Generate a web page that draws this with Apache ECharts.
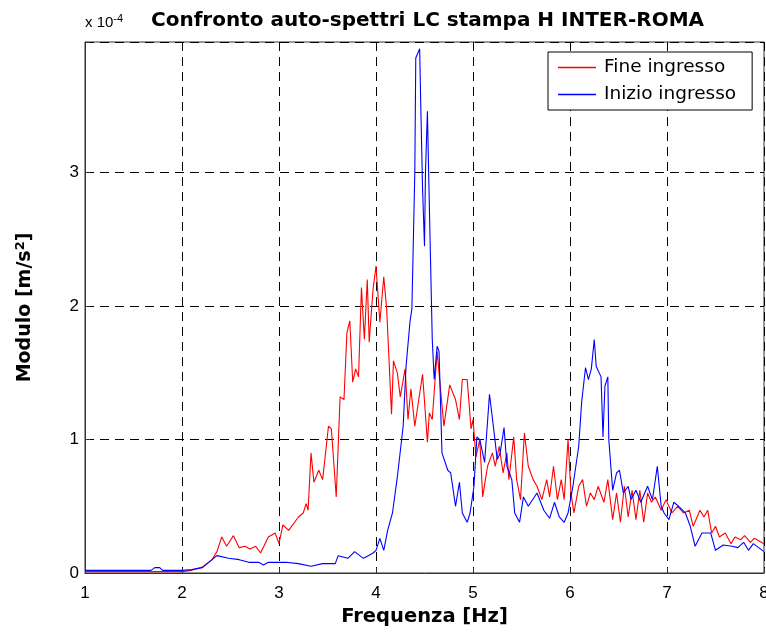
<!DOCTYPE html>
<html>
<head>
<meta charset="utf-8">
<script src="https://cdn.jsdelivr.net/npm/echarts@6/dist/echarts.min.js"></script>
<style>
  html, body { margin: 0; padding: 0; background: #fff; }
  #chart { width: 766px; height: 635px; }
</style>
</head>
<body>
<div id="chart"></div>
<script>
// values in units of 1e-4 m/s^2, frequency in Hz
var fineIngresso = [
    [1.0,0.01],[1.5,0.01],[2.0,0.01],[2.1,0.02],[2.21,0.045],[2.31,0.1],[2.36,0.16],[2.41,0.27],[2.46,0.2],
    [2.53,0.28],[2.59,0.19],[2.65,0.2],[2.7,0.18],[2.76,0.2],[2.81,0.15],[2.89,0.27],[2.96,0.3],[3.0,0.22],
    [3.04,0.36],[3.1,0.32],[3.2,0.42],[3.25,0.45],[3.28,0.52],[3.3,0.47],[3.33,0.9],[3.36,0.68],[3.41,0.77],
    [3.45,0.7],[3.51,1.1],[3.54,1.08],[3.59,0.57],[3.63,1.32],[3.67,1.3],[3.7,1.8],[3.73,1.89],[3.76,1.43],
    [3.79,1.53],[3.82,1.47],[3.85,2.14],[3.88,1.75],[3.91,2.2],[3.93,1.73],[3.97,2.13],[4.0,2.3],[4.04,1.88],
    [4.08,2.22],[4.11,1.98],[4.16,1.19],[4.18,1.59],[4.22,1.5],[4.25,1.32],[4.3,1.53],[4.33,1.15],[4.36,1.38],
    [4.4,1.1],[4.48,1.49],[4.53,0.98],[4.55,1.2],[4.58,1.15],[4.63,1.66],[4.7,1.1],[4.76,1.41],[4.82,1.3],
    [4.86,1.15],[4.89,1.45],[4.94,1.45],[4.98,1.08],[5.0,1.15],[5.03,0.87],[5.07,1.0],[5.1,0.57],[5.15,0.8],
    [5.2,0.9],[5.23,0.8],[5.27,0.95],[5.31,0.75],[5.35,0.9],[5.37,0.7],[5.42,1.02],[5.45,0.7],[5.49,0.55],
    [5.53,1.05],[5.57,0.8],[5.62,0.7],[5.66,0.65],[5.71,0.55],[5.76,0.7],[5.79,0.57],[5.83,0.8],[5.87,0.55],
    [5.91,0.7],[5.94,0.55],[5.98,1.0],[6.01,0.6],[6.04,0.45],[6.09,0.65],[6.13,0.7],[6.17,0.5],[6.21,0.6],
    [6.25,0.55],[6.29,0.65],[6.35,0.53],[6.39,0.7],[6.44,0.4],[6.48,0.6],[6.52,0.38],[6.56,0.65],[6.6,0.42],
    [6.64,0.62],[6.68,0.4],[6.72,0.62],[6.76,0.38],[6.8,0.6],[6.84,0.53],[6.88,0.57],[6.94,0.47],[6.99,0.55],
    [7.05,0.45],[7.11,0.5],[7.17,0.45],[7.23,0.47],[7.27,0.35],[7.34,0.47],[7.38,0.42],[7.42,0.47],[7.46,0.3],
    [7.5,0.35],[7.54,0.27],[7.6,0.3],[7.66,0.22],[7.7,0.27],[7.76,0.25],[7.8,0.28],[7.86,0.23],[7.9,0.26],
    [8.0,0.22]
];

var inizioIngresso = [
    [1.0,0.02],[1.68,0.02],[1.72,0.04],[1.77,0.04],[1.8,0.02],[2.0,0.02],[2.1,0.025],[2.21,0.04],[2.31,0.1],
    [2.36,0.13],[2.38,0.14],[2.48,0.11],[2.59,0.1],[2.69,0.08],[2.79,0.08],[2.84,0.06],[2.89,0.08],[3.0,0.08],
    [3.07,0.08],[3.2,0.07],[3.33,0.05],[3.45,0.07],[3.58,0.07],[3.61,0.13],[3.71,0.11],[3.78,0.16],[3.87,0.11],
    [3.92,0.13],[3.97,0.15],[4.0,0.17],[4.04,0.26],[4.08,0.17],[4.12,0.32],[4.17,0.45],[4.22,0.72],[4.28,1.1],
    [4.31,1.55],[4.35,1.88],[4.37,1.98],[4.4,3.0],[4.41,3.86],[4.45,3.93],[4.46,3.56],[4.48,2.88],[4.5,2.45],
    [4.51,3.0],[4.53,3.46],[4.55,2.75],[4.58,1.75],[4.6,1.45],[4.63,1.7],[4.65,1.66],[4.68,0.9],[4.74,0.77],
    [4.77,0.75],[4.82,0.5],[4.86,0.68],[4.89,0.45],[4.94,0.38],[4.97,0.45],[5.01,0.65],[5.04,1.02],[5.07,1.0],
    [5.12,0.83],[5.17,1.34],[5.21,1.1],[5.25,0.85],[5.28,0.9],[5.32,1.09],[5.35,0.8],[5.4,0.7],[5.43,0.45],
    [5.48,0.38],[5.52,0.57],[5.57,0.5],[5.66,0.6],[5.73,0.47],[5.79,0.41],[5.84,0.53],[5.89,0.42],[5.94,0.38],
    [5.98,0.45],[6.03,0.65],[6.09,0.95],[6.12,1.28],[6.16,1.54],[6.19,1.45],[6.22,1.53],[6.25,1.75],[6.27,1.55],
    [6.32,1.47],[6.34,1.02],[6.36,1.4],[6.39,1.47],[6.4,1.0],[6.44,0.62],[6.48,0.75],[6.51,0.77],[6.55,0.6],
    [6.6,0.65],[6.63,0.55],[6.68,0.62],[6.73,0.53],[6.8,0.65],[6.85,0.55],[6.9,0.8],[6.94,0.5],[6.97,0.45],
    [7.02,0.4],[7.07,0.53],[7.12,0.5],[7.19,0.45],[7.24,0.35],[7.29,0.2],[7.36,0.3],[7.45,0.3],[7.5,0.17],
    [7.58,0.21],[7.67,0.2],[7.73,0.19],[7.79,0.23],[7.84,0.17],[7.89,0.22],[8.0,0.16]
];

var seriesNames = ['Fine ingresso', 'Inizio ingresso'];

var chart = echarts.init(document.getElementById('chart'));
var font = '"Liberation Sans", Arial, sans-serif';
var wideFont = '"DejaVu Sans", sans-serif';
var gridLine = { show: true, lineStyle: { color: '#000', type: [9, 6], width: 1 } };

option = {
    animation: false,
    textStyle: { fontFamily: font },
    title: {
        text: 'Confronto auto-spettri LC stampa H INTER-ROMA',
        left: 146,
        top: 6,
        textStyle: { fontSize: 20, fontWeight: 'bold', color: '#000', fontFamily: wideFont }
    },
    graphic: [{
        type: 'text',
        left: 85,
        top: 13,
        style: {
            text: 'x 10{sup|-4}',
            fontSize: 15,
            fontFamily: font,
            fill: '#000',
            rich: { sup: { fontSize: 11, verticalAlign: 'top', padding: [0, 0, 8, 0], fontFamily: font } }
        }
    }],
    legend: {
        data: seriesNames,
        orient: 'vertical',
        left: 548,
        top: 52,
        icon: 'rect',
        itemWidth: 38,
        itemHeight: 1.5,
        itemGap: 8,
        padding: [6, 16, 6, 10],
        borderColor: '#000',
        borderWidth: 1,
        borderRadius: 0,
        backgroundColor: '#fff',
        textStyle: { fontSize: 18.5, color: '#000', fontFamily: wideFont, padding: [0, 0, 0, 3] }
    },
    grid: {
        left: 85,
        right: 2,
        top: 42,
        bottom: 62,
        outerBoundsMode: 'none',
        show: true,
        borderColor: '#333',
        borderWidth: 1
    },
    xAxis: {
        type: 'value',
        min: 1,
        max: 8,
        interval: 1,
        name: 'Frequenza [Hz]',
        nameLocation: 'middle',
        nameGap: 33,
        nameTextStyle: { fontSize: 19.5, fontWeight: 'bold', color: '#000', fontFamily: wideFont },
        axisLine: { lineStyle: { color: '#333' } },
        axisTick: { inside: true, length: 5, lineStyle: { color: '#333' } },
        axisLabel: { fontSize: 17, color: '#000', margin: 12, fontFamily: font },
        splitLine: gridLine
    },
    yAxis: {
        type: 'value',
        min: 0,
        max: 3.98,
        interval: 1,
        name: 'Modulo [m/s{sup|2}]',
        nameLocation: 'middle',
        nameGap: 48,
        nameRotate: 90,
        nameTextStyle: {
            fontSize: 19, fontWeight: 'bold', color: '#000', fontFamily: wideFont,
            rich: { sup: { fontSize: 13, fontWeight: 'bold', verticalAlign: 'top', padding: [0, 0, 10, 0], fontFamily: wideFont } }
        },
        axisLine: { show: true, lineStyle: { color: '#333' } },
        axisTick: { show: true, inside: true, length: 5, lineStyle: { color: '#333' } },
        axisLabel: {
            fontSize: 17, color: '#000', margin: 6, fontFamily: font,
            formatter: function (v) { return Math.abs(v - Math.round(v)) < 1e-6 ? String(Math.round(v)) : ''; }
        },
        splitLine: gridLine
    },
    series: [{
        name: seriesNames[0],
        type: 'line',
        symbol: 'none',
        color: '#ff0000',
        lineStyle: { width: 1.1, color: '#ff0000' },
        data: fineIngresso
    }, {
        name: seriesNames[1],
        type: 'line',
        symbol: 'none',
        color: '#0000ff',
        lineStyle: { width: 1.1, color: '#0000ff' },
        data: inizioIngresso
    }]
};

chart.setOption(option);
</script>
</body>
</html>
